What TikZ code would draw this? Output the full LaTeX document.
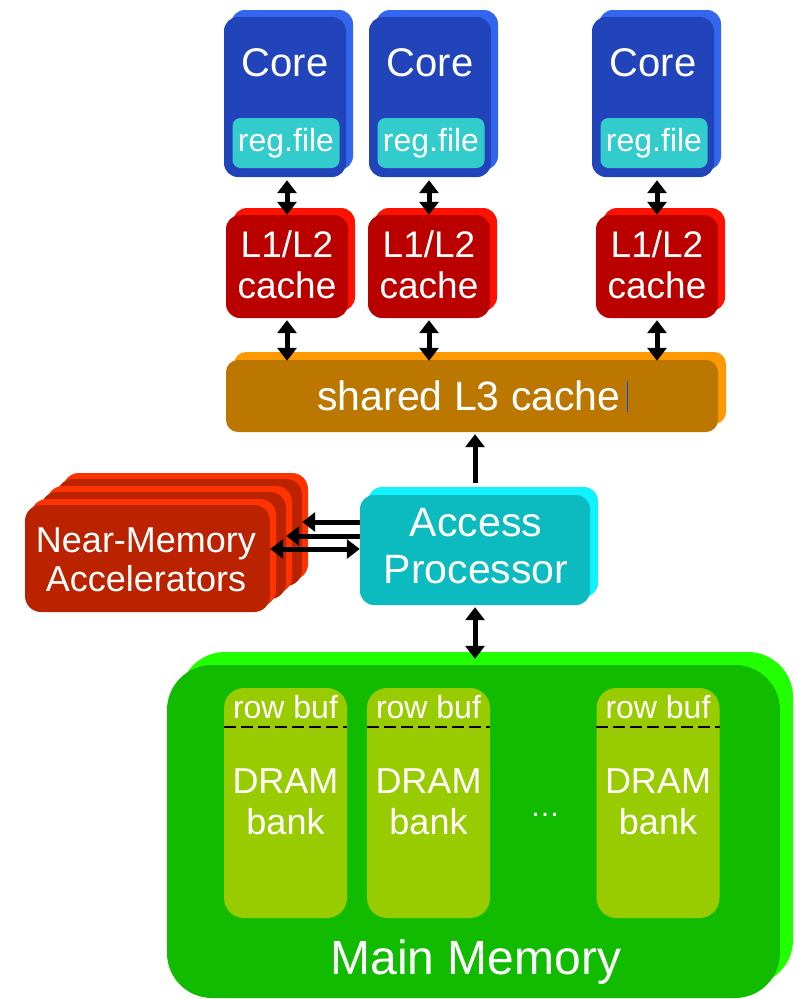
\documentclass[tikz,border=0pt]{standalone}
\usepackage{fontspec}
\setmainfont{Liberation Sans}
\usetikzlibrary{arrows.meta,calc}

\definecolor{coreF}{HTML}{2244BB}
\definecolor{coreB}{HTML}{3366EE}
\definecolor{regC}{HTML}{33CCCC}
\definecolor{cacheF}{HTML}{BB0000}
\definecolor{cacheB}{HTML}{FF1100}
\definecolor{lthreeF}{HTML}{BB7700}
\definecolor{lthreeB}{HTML}{FF9900}
\definecolor{apF}{HTML}{0BBBBF}
\definecolor{apB}{HTML}{11F2FF}
\definecolor{accF}{HTML}{BB2200}
\definecolor{accB}{HTML}{FF3300}
\definecolor{memF}{HTML}{11BB00}
\definecolor{memB}{HTML}{22FF00}
\definecolor{bankC}{HTML}{99CC00}

\newcommand\fsz[2]{\fontsize{#1}{#2}\selectfont}

% bevelled box: name, cx, cy, w, h, front colour, back colour, corner radius, bevel offset
\newcommand\bevelbox[9]{%
  \fill[#7, rounded corners=#8] ({#2-#4/2+#9},{#3-#5/2-#9}) rectangle ({#2+#4/2+#9},{#3+#5/2-#9});
  \node[fill=#6, rounded corners=#8, inner sep=0pt, minimum width=#4pt, minimum height=#5pt] (#1) at (#2,#3) {};
}

\begin{document}
\begin{tikzpicture}[x=1pt,y=-1pt,
  txt/.style={text=white, inner sep=0pt, align=center},
  arr/.style={line width=5pt, {Triangle[length=13pt,width=19pt]}-{Triangle[length=13pt,width=19pt]}},
  larr/.style={line width=5pt, -{Triangle[length=13pt,width=19pt]}}]
\useasboundingbox[fill=white] (0,0) rectangle (797,999);

% cores with register files
\foreach \n/\cx in {1/285,2/430,3/653}{
  \bevelbox{core\n}{\cx}{97}{122}{160}{coreF}{coreB}{14pt}{7}
  \node[txt, font=\fsz{40}{44}] (coret\n) at (\cx,63) {Core};
  \node[fill=regC, rounded corners=8pt, minimum width=107pt, minimum height=50pt, inner sep=0pt] (reg\n) at (\cx+1,143) {};
  \node[txt, font=\fsz{32}{36}] (regt\n) at (reg\n) {reg.file};
}

% private caches
\foreach \n/\cx in {1/287,2/429,3/657}{
  \bevelbox{cache\n}{\cx}{266.5}{122}{103}{cacheF}{cacheB}{14pt}{7}
  \node[txt, font=\fsz{37}{41}] (cachet\n) at (\cx,265) {L1/L2\\cache};
}

% shared L3
\bevelbox{lthree}{472}{396}{492}{72}{lthreeF}{lthreeB}{12pt}{8}
\node[txt, font=\fsz{41}{45}] (lthreet) at (469,396) {shared L3 cache};
\draw[blue!70!cyan, line width=1pt] ($(lthreet.east)+(7,-15)$) -- ($(lthreet.east)+(7,16)$);

% access processor
\bevelbox{ap}{475}{550}{230}{110}{apF}{apB}{14pt}{8}
\node[txt, font=\fsz{41}{47}] (apt) at (476,546) {Access\\Processor};

% stacked near-memory accelerators
\bevelbox{acc2}{179.5}{532.5}{245}{107}{accF}{accB}{16pt}{6}
\bevelbox{acc1}{163.5}{545.5}{245}{107}{accF}{accB}{16pt}{6}
\bevelbox{acc0}{147.5}{558.5}{245}{107}{accF}{accB}{16pt}{6}
\node[txt, font=\fsz{36}{39}] (acct) at (146,560) {Near-Memory\\Accelerators};

% main memory
\bevelbox{mem}{473.5}{831.5}{613}{333}{memF}{memB}{45pt}{13}
\node[txt, font=\fsz{48}{52}] (memt) at (476,962) {Main Memory};

\foreach \n/\cx in {1/285.5,2/428.5,3/658}{
  \node[fill=bankC, rounded corners=20pt, minimum width=123pt, minimum height=230pt, inner sep=0pt] (bank\n) at (\cx,803) {};
  \node[txt, font=\fsz{32}{36}] (rowt\n) at (\cx,707) {row buf};
  \coordinate (dl\n) at ($(bank\n.north west)+(0,39)$);
  \coordinate (dr\n) at ($(bank\n.north east)+(0,39)$);
  \draw[black, line width=2pt, dash pattern=on 12pt off 5pt] (dl\n) -- (dr\n);
  \node[txt, font=\fsz{36}{41}] (drt\n) at (\cx,802) {DRAM\\bank};
}
\node[txt, font=\fsz{30}{34}] (dots) at (545,815) {\dots};

% connections
\foreach \n in {1,2,3}{
  \draw[arr, shorten <=3pt] (core\n.south -| cache\n.north) -- (cache\n.north);
  \draw[arr, shorten <=2pt, shorten >=-1pt] (cache\n.south) -- (cache\n.south |- lthree.north);
}
\draw[larr, shorten >=2pt] ([yshift=12pt]ap.north) -- (ap.north |- lthree.south);
\draw[arr, shorten <=2pt] (ap.south) -- ([yshift=6pt]mem.north -| ap.south);

\coordinate (h1) at ([yshift=28pt]ap.west);
\coordinate (h2) at ([yshift=14pt]ap.west);
\coordinate (h3) at ([yshift=1pt]ap.west);
\draw[larr] (h1) -- (h1 -| acc2.east);
\draw[larr] (h2) -- (h2 -| acc1.east);
\draw[arr] (h3) -- (h3 -| acc0.east);
\end{tikzpicture}
\end{document}
